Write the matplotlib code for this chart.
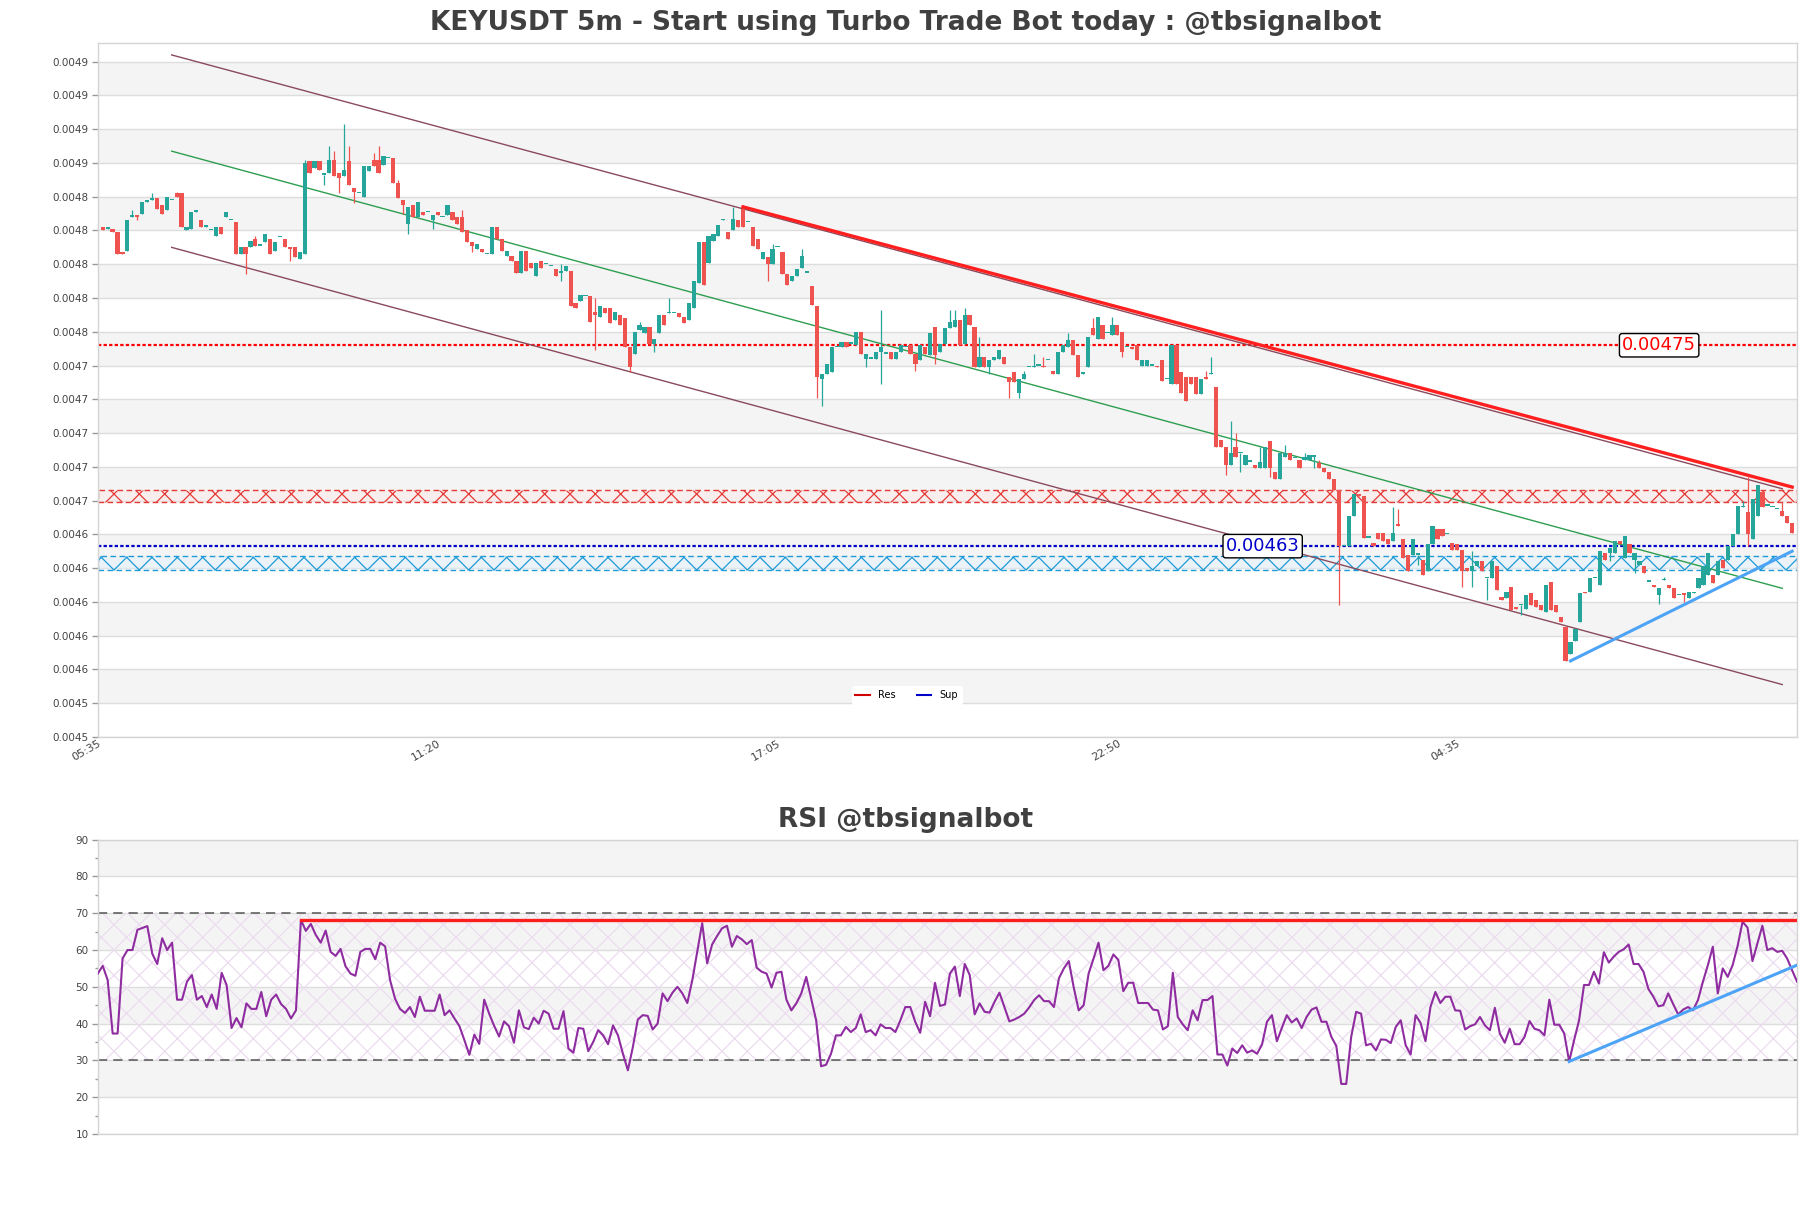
"""
KEYUSDT 5m candles with channel / support-resistance overlays and an RSI panel.
"""

import numpy as np
import matplotlib
matplotlib.use("Agg")
import matplotlib.pyplot as plt
import matplotlib.transforms as mtransforms
from matplotlib.lines import Line2D
from matplotlib.ticker import FormatStrFormatter, MultipleLocator

# Prices are kept in units of 1e-6 USDT
P = 1e-6

opens = [
    4822, 4821, 4821, 4819, 4807, 4808, 4828, 4829, 4830, 4837,
    4838, 4839, 4835, 4832, 4838, 4842, 4842, 4820, 4821, 4831,
    4826, 4822, 4820, 4817, 4822, 4828, 4826, 4825, 4806, 4810,
    4810, 4815, 4811, 4813, 4815, 4808, 4816, 4815, 4810, 4810,
    4803, 4806, 4861, 4857, 4861, 4853, 4854, 4862, 4854, 4852,
    4861, 4845, 4842, 4840, 4855, 4862, 4862, 4859, 4863, 4863,
    4848, 4838, 4824, 4835, 4828, 4831, 4831, 4826, 4831, 4828,
    4829, 4831, 4828, 4828, 4820, 4813, 4809, 4809, 4806, 4806,
    4822, 4815, 4805, 4805, 4802, 4795, 4808, 4801, 4793, 4802,
    4800, 4799, 4797, 4795, 4796, 4796, 4777, 4778, 4781, 4781,
    4772, 4769, 4774, 4774, 4767, 4770, 4768, 4751, 4747, 4761,
    4759, 4763, 4753, 4759, 4770, 4771, 4771, 4771, 4769, 4767,
    4774, 4789, 4813, 4801, 4814, 4817, 4826, 4819, 4820, 4826,
    4833, 4825, 4822, 4815, 4803, 4804, 4800, 4810, 4807, 4794,
    4790, 4793, 4798, 4795, 4787, 4775, 4732, 4735, 4736, 4751,
    4751, 4754, 4753, 4752, 4760, 4744, 4744, 4744, 4748, 4747,
    4748, 4744, 4748, 4751, 4752, 4747, 4743, 4751, 4746, 4763,
    4748, 4753, 4762, 4763, 4767, 4753, 4770, 4763, 4739, 4745,
    4739, 4743, 4744, 4745, 4733, 4736, 4724, 4732, 4739, 4739,
    4740, 4740, 4743, 4737, 4735, 4748, 4751, 4755, 4746, 4735,
    4739, 4762, 4756, 4764, 4759, 4758, 4764, 4760, 4751, 4751,
    4752, 4740, 4740, 4740, 4740, 4743, 4732, 4729, 4752, 4736,
    4733, 4733, 4733, 4723, 4733, 4735, 4727, 4696, 4692, 4681,
    4692, 4688, 4681, 4683, 4681, 4679, 4679, 4695, 4677, 4673,
    4686, 4688, 4685, 4684, 4684, 4684, 4686, 4682, 4679, 4677,
    4673, 4666, 4633, 4633, 4651, 4664, 4663, 4638, 4635, 4641,
    4641, 4637, 4636, 4646, 4637, 4628, 4628, 4628, 4625, 4618,
    4634, 4643, 4643, 4640, 4635, 4634, 4631, 4620, 4618, 4621,
    4624, 4614, 4614, 4621, 4603, 4602, 4609, 4597, 4598, 4596,
    4605, 4601, 4598, 4594, 4612, 4598, 4591, 4585, 4569, 4577,
    4588, 4606, 4606, 4614, 4610, 4629, 4629, 4629, 4636, 4626,
    4634, 4625, 4622, 4621, 4612, 4610, 4604, 4613, 4610, 4608,
    4604, 4605, 4602, 4605, 4608, 4610, 4616, 4616, 4616, 4625,
    4625, 4633, 4640, 4656, 4653, 4637, 4651, 4665, 4657, 4656,
    4655, 4654, 4651, 4647,
]

closes = [
    4820, 4822, 4819, 4806, 4806, 4826, 4829, 4828, 4837, 4838,
    4839, 4833, 4830, 4840, 4838, 4840, 4822, 4822, 4831, 4832,
    4822, 4823, 4820, 4822, 4818, 4831, 4826, 4806, 4810, 4806,
    4814, 4811, 4811, 4818, 4806, 4813, 4816, 4810, 4809, 4804,
    4807, 4860, 4854, 4861, 4856, 4853, 4862, 4852, 4851, 4856,
    4847, 4843, 4842, 4858, 4858, 4858, 4854, 4864, 4863, 4848,
    4839, 4835, 4834, 4828, 4837, 4829, 4831, 4829, 4829, 4828,
    4835, 4826, 4824, 4819, 4813, 4811, 4812, 4807, 4806, 4822,
    4815, 4808, 4808, 4802, 4795, 4808, 4796, 4798, 4801, 4798,
    4800, 4799, 4793, 4795, 4799, 4775, 4774, 4782, 4781, 4766,
    4770, 4775, 4771, 4765, 4772, 4764, 4751, 4739, 4760, 4764,
    4763, 4753, 4756, 4770, 4764, 4771, 4771, 4769, 4765, 4777,
    4790, 4813, 4788, 4817, 4818, 4823, 4826, 4815, 4827, 4822,
    4822, 4825, 4811, 4809, 4807, 4800, 4809, 4810, 4794, 4788,
    4793, 4797, 4805, 4795, 4776, 4733, 4735, 4741, 4751, 4751,
    4754, 4751, 4753, 4760, 4747, 4747, 4744, 4748, 4751, 4747,
    4744, 4748, 4752, 4751, 4747, 4741, 4752, 4747, 4759, 4746,
    4753, 4762, 4766, 4767, 4752, 4770, 4764, 4739, 4745, 4739,
    4743, 4745, 4749, 4741, 4730, 4730, 4732, 4735, 4739, 4740,
    4740, 4739, 4743, 4735, 4748, 4752, 4755, 4746, 4733, 4736,
    4757, 4758, 4769, 4756, 4759, 4764, 4758, 4748, 4751, 4750,
    4743, 4743, 4743, 4740, 4739, 4731, 4732, 4752, 4729, 4724,
    4719, 4729, 4723, 4732, 4732, 4735, 4692, 4692, 4681, 4688,
    4686, 4688, 4687, 4683, 4679, 4683, 4692, 4679, 4673, 4688,
    4688, 4684, 4685, 4679, 4686, 4687, 4687, 4679, 4677, 4673,
    4666, 4633, 4633, 4651, 4664, 4663, 4638, 4638, 4633, 4637,
    4636, 4634, 4641, 4645, 4626, 4618, 4637, 4628, 4616, 4634,
    4645, 4637, 4639, 4640, 4631, 4631, 4618, 4618, 4621, 4624,
    4618, 4614, 4624, 4607, 4601, 4606, 4595, 4596, 4598, 4604,
    4598, 4597, 4595, 4610, 4595, 4594, 4588, 4565, 4576, 4584,
    4605, 4605, 4614, 4614, 4630, 4625, 4632, 4636, 4634, 4639,
    4629, 4629, 4624, 4617, 4612, 4609, 4608, 4613, 4608, 4602,
    4604, 4604, 4606, 4606, 4614, 4621, 4629, 4611, 4624, 4620,
    4633, 4640, 4657, 4656, 4640, 4661, 4669, 4656, 4657, 4656,
    4655, 4651, 4647, 4641,
]

# visible wicks beyond the candle body
wick_high = {
    6: 4832, 10: 4842, 15: 4843, 31: 4817, 41: 4862, 46: 4870, 47: 4867,
    49: 4883, 50: 4870, 55: 4866, 56: 4870, 60: 4850, 73: 4832, 93: 4800,
    100: 4780, 109: 4766, 115: 4780, 126: 4827, 128: 4834, 130: 4835,
    136: 4812, 142: 4809, 158: 4773, 172: 4773, 173: 4773, 175: 4774,
    178: 4757, 187: 4737, 189: 4747, 191: 4745, 196: 4759, 201: 4768,
    205: 4769, 224: 4737, 225: 4745, 229: 4707, 230: 4700, 235: 4692,
    240: 4693, 244: 4688, 247: 4684, 262: 4656, 263: 4655, 278: 4630,
    317: 4615, 333: 4660, 334: 4674, 341: 4659,
}
wick_low = {
    7: 4826, 29: 4794, 38: 4802, 45: 4847, 48: 4842, 51: 4836, 61: 4830,
    62: 4818, 67: 4821, 75: 4807, 93: 4790, 100: 4749, 107: 4736, 112: 4748,
    135: 4790, 145: 4721, 146: 4716, 155: 4739, 158: 4729, 165: 4737,
    169: 4741, 180: 4735, 184: 4721, 186: 4721, 207: 4745, 228: 4675,
    231: 4677, 237: 4674, 246: 4679, 251: 4598, 267: 4622, 276: 4609,
    278: 4609, 281: 4601, 288: 4592, 306: 4624, 311: 4617, 316: 4599,
    321: 4600, 334: 4633,
}

rsi = [
    53.6, 55.7, 51.8, 37.3, 37.3, 57.7, 60.0, 60.0, 65.5, 66.0,
    66.5, 59.0, 56.2, 63.2, 60.0, 62.0, 46.5, 46.5, 51.4, 53.2,
    46.5, 47.5, 44.5, 47.9, 44.0, 53.8, 50.5, 38.8, 41.5, 39.0,
    45.5, 44.0, 44.0, 48.6, 42.0, 46.5, 47.9, 45.3, 44.0, 41.4,
    43.6, 68.2, 65.2, 67.1, 64.1, 62.0, 65.3, 59.5, 58.4, 60.3,
    55.6, 53.6, 53.0, 59.5, 60.3, 60.3, 57.5, 62.0, 61.0, 51.8,
    46.8, 44.0, 42.9, 44.5, 41.8, 47.3, 43.5, 43.5, 43.5, 47.9,
    42.3, 43.6, 41.4, 39.3, 35.5, 31.5, 37.0, 34.5, 46.5, 42.7,
    39.4, 36.5, 40.6, 39.3, 34.8, 43.6, 39.0, 38.5, 41.6, 40.0,
    43.5, 42.7, 38.6, 38.6, 43.4, 33.2, 32.1, 38.8, 38.6, 32.5,
    35.0, 38.2, 36.8, 34.4, 39.5, 36.8, 31.8, 27.3, 33.6, 41.1,
    42.3, 42.1, 38.4, 40.0,
    48.2, 46.1, 48.4, 50.0, 48.2, 45.6, 51.8, 59.5, 67.3, 56.4,
    61.5, 63.8, 65.9, 66.6, 60.9, 63.8, 62.9, 61.6, 62.7, 55.2,
    54.1, 53.6, 49.8, 53.8, 54.1, 46.5, 43.6, 45.5, 48.2, 52.7,
    46.8, 40.9, 28.4, 28.8, 31.8, 36.8, 36.8, 39.1, 37.7, 38.8,
    42.5, 37.7, 38.2, 36.8, 39.8, 38.8, 38.8, 37.7, 40.9, 44.5,
    44.5, 40.5, 37.5, 45.9, 42.0, 51.1, 44.8, 45.2, 53.6, 55.5,
    47.5, 56.2, 53.2, 42.5, 45.5, 43.2, 43.0, 45.9, 48.4, 44.5,
    40.6, 41.1, 41.8, 42.7, 44.4, 46.4, 47.7, 46.1, 46.1, 44.5,
    52.3, 55.0, 57.0, 49.8, 43.6, 45.0, 53.6, 57.7, 62.0, 54.5,
    55.7, 58.8, 57.3, 48.8, 51.1, 51.1, 45.6, 45.6, 45.6, 43.8,
    43.6, 38.4, 39.3, 53.8, 41.8, 39.8, 38.2, 43.6, 40.9, 46.4,
    46.4, 47.5,
    31.6, 31.6, 28.6, 33.2, 32.0, 34.1, 32.1, 32.7, 31.8, 34.3,
    40.5, 42.3, 35.2, 38.8, 42.3, 40.3, 41.4, 38.8, 41.8, 43.8,
    44.4, 40.5, 40.5, 36.4, 33.9, 23.6, 23.6, 36.4, 43.2, 42.7,
    34.1, 34.5, 32.7, 35.7, 35.6, 34.7, 39.1, 40.9, 34.1, 31.6,
    42.3, 40.2, 35.2, 44.5, 48.6, 45.6, 47.3, 47.3, 43.6, 43.5,
    38.4, 39.3, 39.8, 41.8, 39.5, 38.2, 44.3, 37.3, 34.8, 38.6,
    34.4, 34.4, 36.4, 40.7, 38.6, 38.2, 36.8, 46.5, 39.7, 39.7,
    37.3, 29.7, 35.5, 40.9, 50.5, 50.5, 54.1, 50.9, 59.4, 56.6,
    58.2, 59.5, 60.2, 61.5, 56.2, 56.2, 54.1, 49.4, 47.3, 44.7,
    45.0, 48.2, 45.3, 42.5, 43.8, 44.5, 43.6, 46.4, 51.4, 55.9,
    60.9, 48.2, 55.0, 52.7, 55.9, 61.1, 67.7, 66.1, 57.0, 61.8,
    66.6, 60.0, 60.5, 59.5, 59.8, 57.7, 54.5, 51.4,
]

tick_pos = [0, 69, 138, 207, 276]
tick_labels = ["05:35", "11:20", "17:05", "22:50", "04:35"]

# levels and trend lines
res_level, sup_level = 4752, 4633
res_zone = (4659, 4666)
sup_zone = (4619, 4627)

channel_x = [14, 341]
channel_upper = [4924, 4667]
channel_mid = [4867, 4608]
channel_lower = [4810, 4551]
res_trend_x, res_trend_y = [130, 343], [4834, 4668]
sup_trend_x, sup_trend_y = [298, 343], [4565, 4630]

rsi_res_x, rsi_res_y = [41, 343], [68.2, 68.2]
rsi_sup_x, rsi_sup_y = [297, 343], [29.7, 55.9]

# Shared style
# rendered at a low dpi so the hatch cells come out at the reference size;
# K converts sizes that were tuned at 100 dpi
DPI = 76
K = 100 / DPI
UP = "#26a69a"
DOWN = "#ef5350"
BAND = "#f4f4f4"
GRID = "#dddddd"
SPINE = "#d4d4d4"
TXT = "#444444"
TREND_RED = "#ff1f1f"
TREND_BLUE = "#4da3f5"

plt.rcParams["hatch.linewidth"] = 0.9 * K

fig = plt.figure(figsize=(1811 / DPI, 1208 / DPI), dpi=DPI)
ax = fig.add_axes([0.054, 0.39, 0.9383, 0.5743])
rx = fig.add_axes([0.054, 0.0613, 0.9383, 0.2436])

# Price panel
n = len(opens)
x = np.arange(n)
o = np.array(opens) * P
c = np.array(closes) * P
hi = np.maximum(o, c)
lo = np.minimum(o, c)
for i, v in wick_high.items():
    hi[i] = v * P
for i, v in wick_low.items():
    lo[i] = v * P
colors = np.where(c >= o, UP, DOWN)

for b in range(4540, 4901, 40):
    ax.axhspan(b * P, (b + 20) * P, color=BAND, lw=0, zorder=0)

ax.axhspan(res_zone[0] * P, res_zone[1] * P, facecolor=(1, 0.9, 0.9, 0.4),
           edgecolor="#e53935", hatch="x", lw=1 * K, ls=(0, (4, 2.5)), zorder=1)
ax.axhspan(sup_zone[0] * P, sup_zone[1] * P, facecolor=(0.88, 0.95, 1, 0.4),
           edgecolor="#1e9bd7", hatch="x", lw=1 * K, ls=(0, (4, 2.5)), zorder=1)

ax.axhline(res_level * P, color="red", ls=(0, (1.5, 1)), lw=1.6 * K, zorder=2)
ax.axhline(sup_level * P, color="#0000c8", ls=(0, (1.5, 1)), lw=1.6 * K, zorder=2)

ax.plot(channel_x, np.array(channel_upper) * P, color="#8a4a5c", lw=1 * K, zorder=2)
ax.plot(channel_x, np.array(channel_lower) * P, color="#8a4a5c", lw=1 * K, zorder=2)
ax.plot(channel_x, np.array(channel_mid) * P, color="#2e9e4f", lw=1 * K, zorder=2)

ax.vlines(x, lo, hi, colors=colors, lw=0.9 * K, zorder=3)
body = np.maximum(np.abs(c - o), 0.8 * P)
ax.bar(x, body, bottom=np.minimum(o, c), width=0.85, color=colors, lw=0, zorder=4)

ax.plot(res_trend_x, np.array(res_trend_y) * P, color=TREND_RED, lw=2.4 * K, zorder=5)
ax.plot(sup_trend_x, np.array(sup_trend_y) * P, color=TREND_BLUE, lw=2.2 * K, zorder=5)

box = dict(boxstyle="round,pad=0.15", fc="white", ec="black", lw=1 * K)
ax.text(316, res_level * P, "0.00475", color="red", fontsize=13 * K,
        ha="center", va="center", bbox=box, zorder=6)
ax.text(235.5, sup_level * P, "0.00463", color="#0000c8", fontsize=13 * K,
        ha="center", va="center", bbox=box, zorder=6)

handles = [Line2D([], [], color="#d00000", lw=1.5 * K),
           Line2D([], [], color="#0000c8", lw=1.5 * K)]
leg = ax.legend(handles, ["Res", "Sup"], loc="lower center",
                bbox_to_anchor=(0.476, 0.04), ncol=2, fontsize=7 * K,
                frameon=True, facecolor="white", edgecolor="white",
                framealpha=1, handlelength=1.5, columnspacing=2.2)
leg.set_zorder(7)

ax.set_xlim(-1, n)
ax.set_ylim(4520 * P, 4931 * P)
ax.set_yticks(np.arange(4520, 4921, 20) * P)
ax.yaxis.set_major_formatter(FormatStrFormatter("%.4f"))
ax.set_xticks(tick_pos)
ax.set_xticklabels(tick_labels, rotation=30, ha="right", fontsize=8 * K)
shift = mtransforms.ScaledTranslation(-9 / DPI, 0, fig.dpi_scale_trans)
for lab in ax.get_xticklabels():
    lab.set_transform(lab.get_transform() + shift)
ax.yaxis.grid(True, color=GRID, lw=1 * K)
ax.set_axisbelow(True)
ax.tick_params(axis="y", labelsize=7.5 * K)
ax.tick_params(colors=TXT, length=4 * K, width=K, color="#999999")
ax.tick_params(axis="x", length=0, pad=1 * K)
for s in ax.spines.values():
    s.set_color(SPINE)
    s.set_linewidth(K)

# RSI panel
for b in (20, 40, 60, 80):
    rx.axhspan(b, b + 10, color=BAND, lw=0, zorder=0)
rx.axhspan(30, 70, facecolor="none", edgecolor="#ecdcef", hatch="x", lw=0, zorder=1)
rx.axhline(70, color="#555555", ls=(0, (6, 4)), lw=1.1 * K, zorder=2)
rx.axhline(30, color="#555555", ls=(0, (6, 4)), lw=1.1 * K, zorder=2)
rx.plot(np.arange(len(rsi)), rsi, color="#8e2ca0", lw=1.5 * K, zorder=4)
rx.plot(rsi_res_x, rsi_res_y, color=TREND_RED, lw=2.4 * K, zorder=5)
rx.plot(rsi_sup_x, rsi_sup_y, color=TREND_BLUE, lw=2.2 * K, zorder=5)

rx.set_xlim(0, len(rsi) - 1)
rx.set_ylim(10, 90)
rx.set_yticks(range(10, 91, 10))
rx.yaxis.set_minor_locator(MultipleLocator(5))
rx.set_xticks([])
rx.yaxis.grid(True, color=GRID, lw=1 * K)
rx.set_axisbelow(True)
rx.tick_params(labelsize=7.5 * K, colors=TXT, length=4 * K, width=K, color="#999999")
rx.tick_params(which="minor", length=2 * K, width=K, color="#999999")
for s in rx.spines.values():
    s.set_color(SPINE)
    s.set_linewidth(K)

fig.text(0.5, 0.981, "KEYUSDT 5m - Start using Turbo Trade Bot today : @tbsignalbot",
         ha="center", va="center", fontsize=19 * K, fontweight="bold", color="#404040")
fig.text(0.5, 0.321, "RSI @tbsignalbot", ha="center", va="center",
         fontsize=19 * K, fontweight="bold", color="#404040")

fig.savefig("out.png", dpi=DPI)
